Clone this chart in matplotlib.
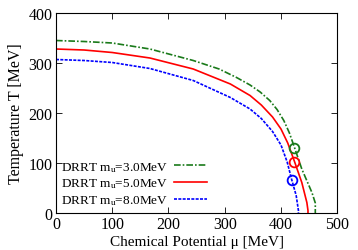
import matplotlib
matplotlib.use("Agg")
import matplotlib.pyplot as plt

plt.rcParams['font.family'] = ['Liberation Serif', 'DejaVu Serif']
plt.rcParams['mathtext.fontset'] = 'custom'
plt.rcParams['mathtext.rm'] = 'Liberation Serif'
plt.rcParams['mathtext.it'] = 'Liberation Serif'

labels = ["DRRT m$_\\mathrm{u}$=3.0MeV", "DRRT m$_\\mathrm{u}$=5.0MeV", "DRRT m$_\\mathrm{u}$=8.0MeV"]

mu_3 = [0, 50, 100, 167, 244, 290, 321, 345, 363, 380, 393, 405, 415, 424, 437, 455, 461, 461]
T_3 = [345, 343, 340, 328, 305, 288, 271, 256, 242, 225, 207, 185, 160, 131, 88, 41, 20, 0]

mu_5 = [0, 50, 100, 167, 244, 310, 345, 365, 385, 400, 412, 424, 437, 446, 448, 448]
T_5 = [328, 326, 321, 310, 288, 258, 235, 216, 192, 168, 140, 103, 61, 21, 5, 0]

mu_8 = [0, 50, 100, 167, 244, 310, 345, 365, 385, 400, 411, 419, 427, 431, 431]
T_8 = [307, 305, 301, 289, 265, 231, 208, 189, 163, 136, 102, 67, 35, 5, 0]

cep_mu = [424, 424, 419]
cep_T = [131, 102, 67]

colors = ['#1a7a1a', '#ff0000', '#0000ff']
styles = [(0, (4, 1.2, 1, 1.2)), '-', (0, (1.8, 0.8))]

fig = plt.figure(figsize=(3.58, 2.51), dpi=100)
ax = fig.add_axes([0.1564, 0.1474, 0.7856, 0.7968])

for mu, T, c, ls, lab in zip([mu_3, mu_5, mu_8], [T_3, T_5, T_8], colors, styles, labels):
    ax.plot(mu, T, color=c, linestyle=ls, linewidth=1.2, label=lab)

for m, t, c in zip(cep_mu, cep_T, colors):
    ax.plot([m], [t], marker='o', markersize=7, markerfacecolor='none',
            markeredgecolor=c, markeredgewidth=1.3, linestyle='none')

ax.set_xlim(0, 500)
ax.set_ylim(0, 400)
ax.set_xticks([0, 100, 200, 300, 400, 500])
ax.set_yticks([0, 100, 200, 300, 400])
ax.tick_params(direction='in', top=True, right=True, length=4, width=0.6, labelsize=11.5, pad=2.5)
for s in ax.spines.values():
    s.set_linewidth(0.8)

ax.set_xlabel("Chemical Potential μ [MeV]", fontsize=11, labelpad=2)
ax.set_ylabel("Temperature T [MeV]", fontsize=11.5, labelpad=3)

leg = ax.legend(loc='lower left', bbox_to_anchor=(-0.005, 0.0), frameon=False,
                markerfirst=False, handlelength=2.5, fontsize=9.5,
                labelspacing=0.22, handletextpad=0.5, borderaxespad=0.25,
                borderpad=0.2)

fig.savefig("out.png", dpi=100)
